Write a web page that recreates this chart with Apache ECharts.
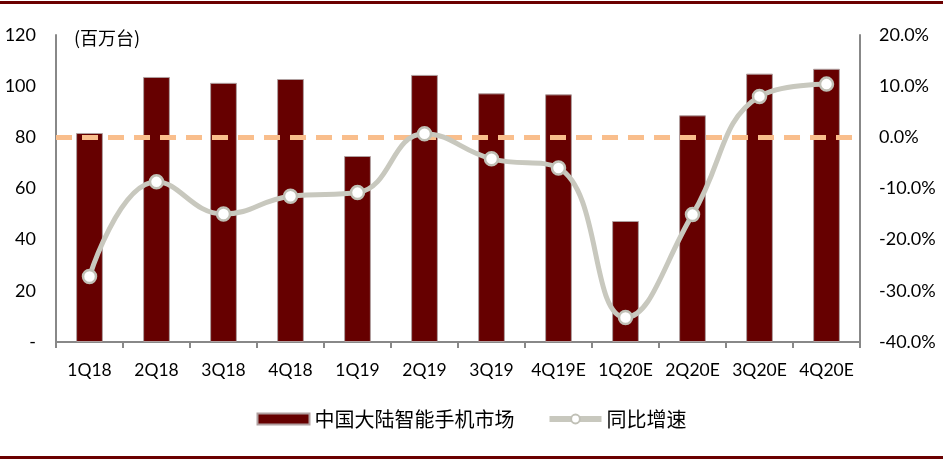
<!DOCTYPE html>
<html><head><meta charset="utf-8">
<script src="https://cdn.jsdelivr.net/npm/echarts@6/dist/echarts.min.js"></script>
<style>html,body{margin:0;padding:0;background:#fff;}#c{width:943px;height:461px;}
.bl{position:absolute;left:0;width:943px;height:3px;background:#6b0000;}</style>
</head><body>
<div class="bl" style="top:1px"></div>
<div id="c"></div>
<div class="bl" style="top:456px"></div>
<script>
const categories = ['1Q18','2Q18','3Q18','4Q18','1Q19','2Q19','3Q19','4Q19E','1Q20E','2Q20E','3Q20E','4Q20E'];
const shipments = [81.7,103.6,101.3,102.8,72.7,104.4,97.2,96.8,47.3,88.6,104.9,106.8];
const yoyGrowth = [-27.2,-8.7,-15.0,-11.5,-10.8,0.7,-4.2,-6.0,-35.2,-15.1,8.0,10.4];

const font = 'Lato,"Liberation Sans",sans-serif';
const chart = echarts.init(document.getElementById('c'));
chart.setOption({
  animation:false,
  grid:{left:56,right:83,top:35,bottom:119},
  graphic:[{type:'text',left:74,top:29,style:{text:'(百万台)',font:'18px "Noto Sans CJK SC"',fill:'#000'}}],
  legend:{
    top:404,left:'center',itemGap:32,itemWidth:52,itemHeight:11,
    textStyle:{fontFamily:'"Noto Sans CJK SC"',fontSize:20,color:'#000'},
    data:[{name:'中国大陆智能手机市场',icon:'rect'},
          {name:'同比增速',lineStyle:{width:6,color:'#c8c8be'}}]
  },
  xAxis:{type:'category',data:categories,
    axisLine:{lineStyle:{color:'#888',width:2}},
    axisTick:{show:true,length:6,lineStyle:{color:'#888',width:2}},
    axisLabel:{color:'#000',fontSize:17.5,fontFamily:font,margin:19,interval:0}},
  yAxis:[
    {type:'value',min:0,max:120,interval:20,splitLine:{show:false},
     axisLine:{show:true,lineStyle:{color:'#888',width:2}},axisTick:{show:false},
     axisLabel:{color:'#000',fontSize:18,fontFamily:font,margin:20,formatter:v=>v===0?'-':String(v)}},
    {type:'value',min:-40,max:20,interval:10,splitLine:{show:false},
     axisLine:{show:true,lineStyle:{color:'#888',width:2}},axisTick:{show:false},
     axisLabel:{color:'#000',fontSize:18,fontFamily:font,margin:19,formatter:v=>v.toFixed(1)+'%'}}
  ],
  series:[
    {name:'中国大陆智能手机市场',type:'bar',data:shipments,barWidth:'40%',
     itemStyle:{color:'#660000',borderColor:'#b0a0a0',borderWidth:1}},
    {name:'同比增速',type:'line',yAxisIndex:1,data:yoyGrowth,smooth:0.45,
     symbol:'circle',symbolSize:13,
     lineStyle:{color:'#c8c8be',width:5},
     itemStyle:{color:'#fff',borderColor:'#c0c0b6',borderWidth:2.5},
     markLine:{silent:true,symbol:'none',label:{show:false},
       lineStyle:{color:'#f9be8c',type:[16,10],width:5},
       data:[{yAxis:0}]},
     z:5}
  ]
});
</script>
</body></html>
